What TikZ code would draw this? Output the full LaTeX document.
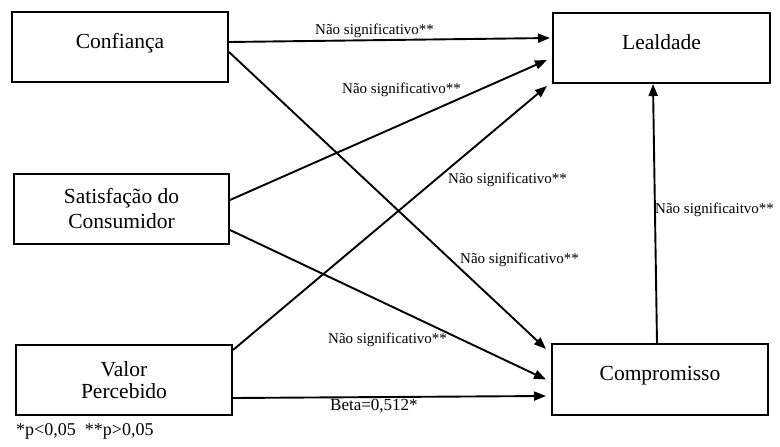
\documentclass[tikz,border=0pt]{standalone}
\usepackage{fontspec}
\setmainfont{Liberation Serif}
\usetikzlibrary{arrows.meta}
\tikzset{
  box/.style={draw=black, line width=2pt, rectangle, inner sep=0pt,
    font=\fontsize{21.5}{25}\selectfont},
  onebox/.style={box, text height=8pt, text depth=6pt},
  arr/.style={line width=1.9pt, -{Triangle[length=12pt,width=9pt]}},
  lbl/.style={inner sep=0pt, font=\fontsize{15}{18}\selectfont},
}
\begin{document}
\begin{tikzpicture}[x=1pt,y=-1pt]
\useasboundingbox[fill=white] (0,0) rectangle (780,447);
% boxes
\node[onebox, minimum width=216pt, minimum height=70pt] (conf) at (120,47) {Confiança};
\node[box, minimum width=215pt, minimum height=70pt, align=center] (sat) at (121.5,209) {Satisfação do\\Consumidor};
\node[box, minimum width=216pt, minimum height=70pt, align=center,
  font=\fontsize{21.5}{22}\selectfont] (val) at (124,380) {Valor\\Percebido};
\node[onebox, minimum width=217pt, minimum height=70pt] (leal) at (661.5,48) {Lealdade};
\node[onebox, minimum width=216pt, minimum height=71pt] (comp) at (660,379.5) {Compromisso};
% arrows
\draw[arr] ([yshift=5pt]conf.east) -- ([xshift=-2pt,yshift=10pt]leal.west);
\draw[arr] ([yshift=9pt]sat.east) -- ([xshift=-5pt,yshift=-12pt]leal.west);
\draw[arr] ([yshift=30pt]val.east) -- ([xshift=-5pt,yshift=-2pt]leal.south west);
\draw[arr] ([yshift=-5pt]conf.east) -- ([xshift=-5pt,yshift=-6pt]comp.north west);
\draw[arr] ([yshift=-21pt]sat.east) -- ([xshift=-5pt]comp.west);
\draw[arr] ([yshift=-18pt]val.east) -- ([xshift=-5pt,yshift=-16.5pt]comp.west);
\draw[arr] ([xshift=-3pt]comp.north) -- ([xshift=-8.5pt]leal.south);
% labels
\node[lbl, anchor=west] (l1) at (315,31) {Não significativo**};
\node[lbl, anchor=west] (l2) at (342,90) {Não significativo**};
\node[lbl, anchor=west] (l3) at (448,180) {Não significativo**};
\node[lbl, anchor=west] (l4) at (460,260) {Não significativo**};
\node[lbl, anchor=west] (l5) at (328,340) {Não significativo**};
\node[lbl, anchor=west, font=\fontsize{17}{20}\selectfont] (l6) at (330,406) {Beta=0,512*};
\node[lbl, anchor=west] (l7) at (655,210) {Não significaitvo**};
\node[lbl, anchor=west, font=\fontsize{18}{21}\selectfont] (foot) at (16,431) {*p<0,05\ \ **p>0,05};
\end{tikzpicture}
\end{document}
